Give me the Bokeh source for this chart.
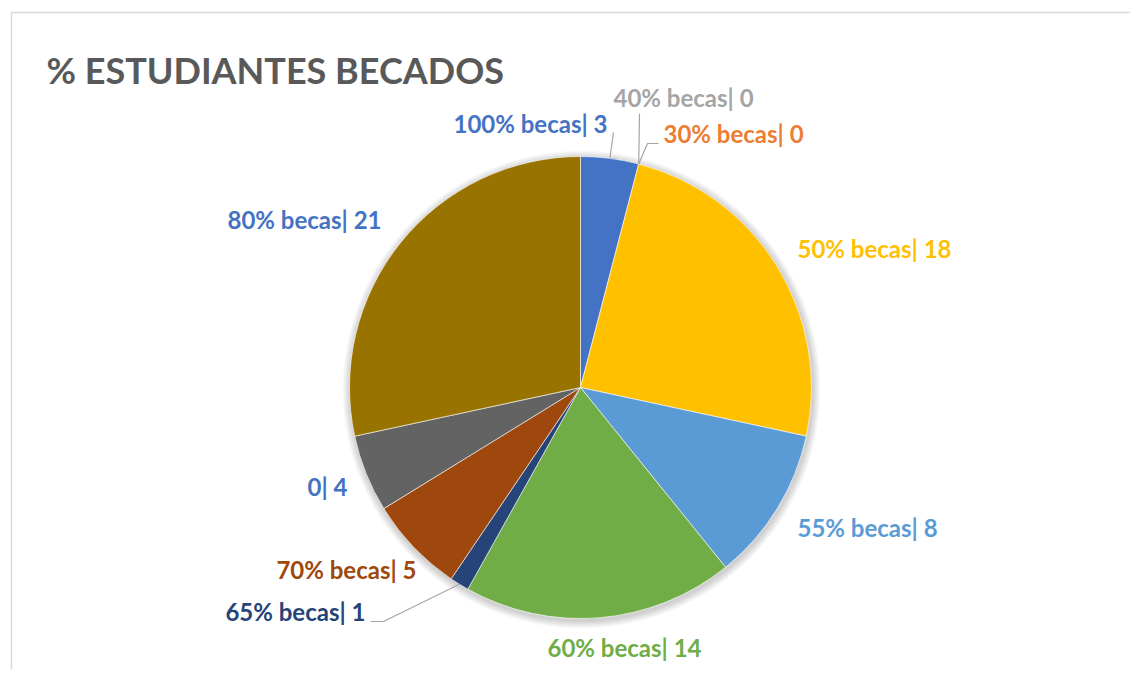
import numpy as np
from bokeh.plotting import figure
from bokeh.models import Range1d, ColumnDataSource
from bokeh.core.properties import value
from bokeh.embed import file_html
from bokeh.resources import INLINE

# ---------------- data ----------------
categories = ["100% becas", "30% becas", "40% becas", "50% becas", "55% becas",
              "60% becas", "65% becas", "70% becas", "0", "80% becas"]
counts = [3, 0, 0, 18, 8, 14, 1, 5, 4, 21]
slice_colors = ["#4472C4", "#ED7D31", "#A5A5A5", "#FFC000", "#5B9BD5",
                "#70AD47", "#264478", "#9E480E", "#636363", "#997300"]
label_colors = ["#4472C4", "#ED7D31", "#A5A5A5", "#FFC000", "#5B9BD5",
                "#70AD47", "#264478", "#9E480E", "#4472C4", "#4472C4"]
title_text = "% ESTUDIANTES BECADOS"

# ---------------- layout (image pixels) ----------------
W, H = 1130, 669
def X(px): return px
def Y(py): return H - py

LABEL_SIZE = 24
TITLE_SIZE = 36
MID = 0.37  # baseline -> visual middle offset (in em)

CX, CY, R = 580, 387, 231
# label anchor (image px, baseline) and alignment
label_layout = {
    "100% becas": (607, 132, "right"),
    "30% becas": (663, 142, "left"),
    "40% becas": (613, 106, "left"),
    "50% becas": (797, 257, "left"),
    "55% becas": (797, 536, "left"),
    "60% becas": (624, 656, "center"),
    "65% becas": (365, 620, "right"),
    "70% becas": (416, 578, "right"),
    "0": (347, 495, "right"),
    "80% becas": (381, 228, "right"),
}
# leader lines: label-side points; final point = slice mid on the rim
leader_layout = {
    "100% becas": [(613, 132)],
    "40% becas": [(639, 113)],
    "30% becas": [(658, 143), (647, 143)],
    "65% becas": [(370, 621), (383, 621)],
}

p = figure(width=W, height=H, x_range=Range1d(0, W), y_range=Range1d(0, H),
           output_backend="svg", toolbar_location=None, min_border=0)
p.axis.visible = False
p.grid.visible = False
p.outline_line_color = None
p.background_fill_color = "white"
p.border_fill_color = "white"

# chart border
p.line([X(11), X(11), X(1140)], [Y(690), Y(12), Y(12)], line_color="#D9D9D9", line_width=1.5)

# soft shadow
for k in range(8, 0, -1):
    p.circle(x=[X(CX + 1)], y=[Y(CY + 2)], radius=R + k, fill_color="black",
             fill_alpha=0.025, line_color=None)

total = sum(counts)
frac = np.array(counts) / total
cum_end = np.cumsum(frac) * 2 * np.pi
cum_start = cum_end - frac * 2 * np.pi
mid = (cum_start + cum_end) / 2

nz = [i for i, v in enumerate(counts) if v > 0]
src = ColumnDataSource(dict(
    start=[np.pi / 2 - cum_start[i] for i in nz],
    end=[np.pi / 2 - cum_end[i] for i in nz],
    color=[slice_colors[i] for i in nz],
    x=[X(CX)] * len(nz), y=[Y(CY)] * len(nz),
))
p.wedge(x="x", y="y", radius=R, start_angle="start", end_angle="end",
        direction="clock", fill_color="color", line_color="white",
        line_width=0.6, source=src)

# leader lines
for i, c in enumerate(categories):
    if c in leader_layout:
        pts = list(leader_layout[c])
        ex = CX + R * np.sin(mid[i])
        ey = CY - R * np.cos(mid[i])
        pts.append((ex, ey))
        p.line([X(a) for a, b in pts], [Y(b) for a, b in pts],
               line_color="#A6A6A6", line_width=1.2)

# labels
for i, c in enumerate(categories):
    lx, ly, al = label_layout[c]
    p.text(x=[X(lx)], y=[Y(ly - MID * LABEL_SIZE)], text=[f"{c}| {counts[i]}"],
           text_color=label_colors[i], text_font=value("Lato"),
           text_font_style="bold", text_font_size=value(f"{LABEL_SIZE}px"),
           text_align=al, text_baseline="middle")

# title
p.text(x=[X(46)], y=[Y(83 - MID * TITLE_SIZE)], text=[title_text], text_color="#595959",
       text_font=value("Lato"), text_font_style="bold",
       text_font_size=value(f"{TITLE_SIZE}px"), text_align="left", text_baseline="middle")

open("out.html", "w").write(file_html(p, INLINE))
